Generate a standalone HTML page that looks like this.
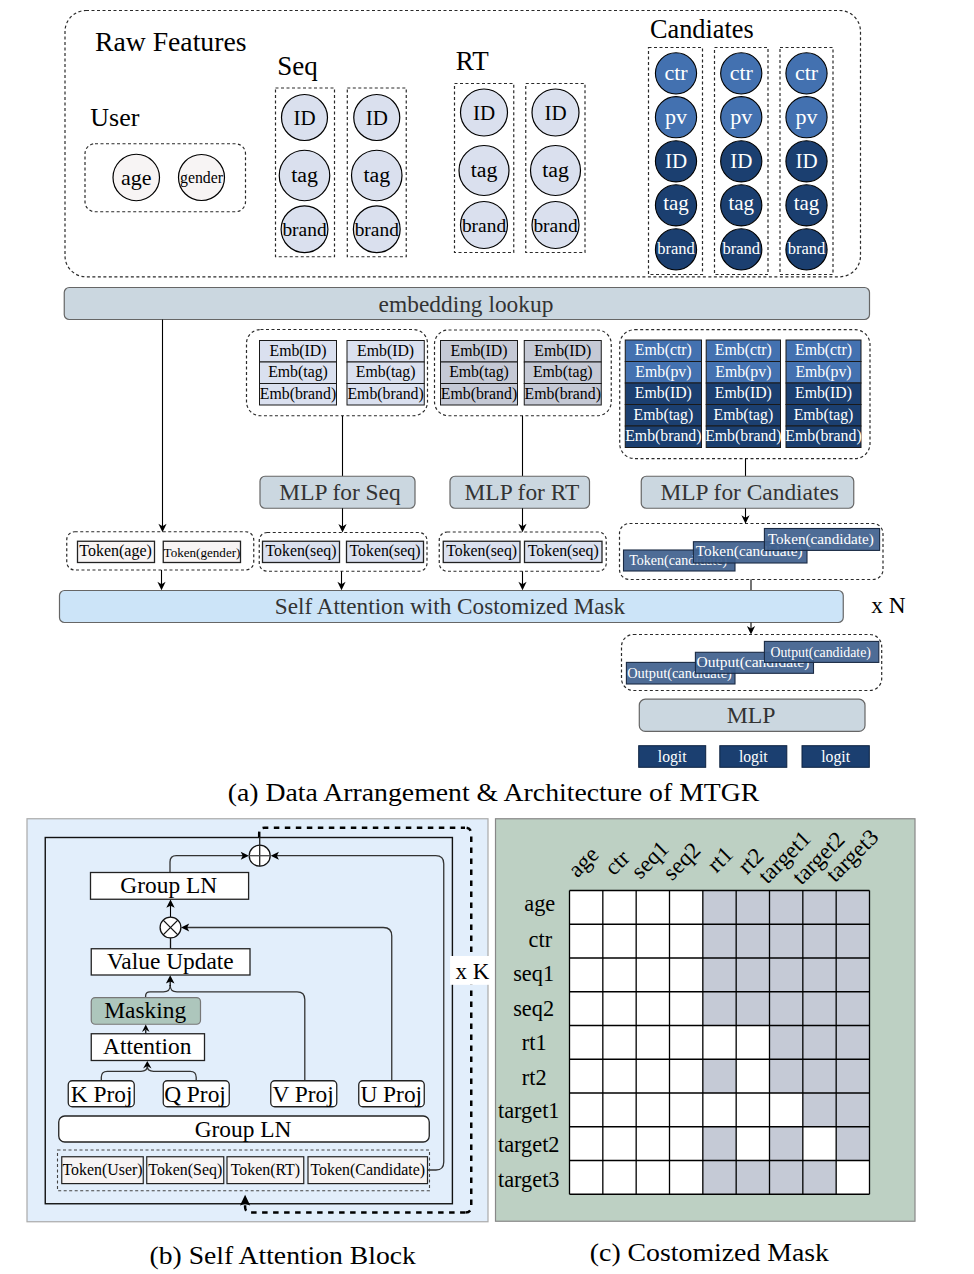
<!DOCTYPE html><html><head><meta charset="utf-8"><style>html,body{margin:0;padding:0;background:#fff;}svg{display:block;}text{font-family:"Liberation Serif",serif;}</style></head><body>
<svg width="974" height="1274" viewBox="0 0 974 1274">
<rect x="65" y="10.5" width="795.50" height="266.30" rx="21" fill="none" stroke="#2a2a2a" stroke-width="1.2" stroke-dasharray="3 2.5" />
<text x="95" y="51" font-size="27.7" fill="#000" text-anchor="start" >Raw Features</text>
<text x="90.3" y="125.7" font-size="26" fill="#000" text-anchor="start" >User</text>
<rect x="85" y="143.75" width="160.50" height="68.00" rx="10" fill="none" stroke="#2a2a2a" stroke-width="1.2" stroke-dasharray="3 2.5" />
<circle cx="136.25" cy="177.5" r="23.25" fill="#f7f4f4" stroke="#000" stroke-width="1.2"/>
<circle cx="201.5" cy="177.5" r="23" fill="#f7f4f4" stroke="#000" stroke-width="1.2"/>
<text x="136.25" y="184.5" font-size="22" fill="#000" text-anchor="middle" >age</text>
<text x="201.5" y="182.5" font-size="15.8" fill="#000" text-anchor="middle" >gender</text>
<text x="277.2" y="75.3" font-size="27" fill="#000" text-anchor="start" >Seq</text>
<rect x="275.5" y="88" width="59.00" height="168.75" rx="0" fill="none" stroke="#2a2a2a" stroke-width="1.2" stroke-dasharray="3 2.5" />
<circle cx="304.5" cy="117.5" r="23" fill="#dae0ee" stroke="#000" stroke-width="1.2"/>
<circle cx="304.5" cy="175.5" r="25.25" fill="#dae0ee" stroke="#000" stroke-width="1.2"/>
<circle cx="304.5" cy="229.25" r="23.4" fill="#dae0ee" stroke="#000" stroke-width="1.2"/>
<text x="304.5" y="125" font-size="21" fill="#000" text-anchor="middle" >ID</text>
<text x="304.5" y="182" font-size="21.9" fill="#000" text-anchor="middle" >tag</text>
<text x="304.5" y="236" font-size="19.4" fill="#000" text-anchor="middle" >brand</text>
<rect x="347.3" y="88" width="58.95" height="168.75" rx="0" fill="none" stroke="#2a2a2a" stroke-width="1.2" stroke-dasharray="3 2.5" />
<circle cx="376.75" cy="117.5" r="23" fill="#dae0ee" stroke="#000" stroke-width="1.2"/>
<circle cx="376.75" cy="175.5" r="25.25" fill="#dae0ee" stroke="#000" stroke-width="1.2"/>
<circle cx="376.75" cy="229.25" r="23.4" fill="#dae0ee" stroke="#000" stroke-width="1.2"/>
<text x="376.75" y="125" font-size="21" fill="#000" text-anchor="middle" >ID</text>
<text x="376.75" y="182" font-size="21.9" fill="#000" text-anchor="middle" >tag</text>
<text x="376.75" y="236" font-size="19.4" fill="#000" text-anchor="middle" >brand</text>
<text x="455.8" y="69.9" font-size="27" fill="#000" text-anchor="start" >RT</text>
<rect x="454.5" y="83.5" width="59.25" height="169.00" rx="0" fill="none" stroke="#2a2a2a" stroke-width="1.2" stroke-dasharray="3 2.5" />
<circle cx="484" cy="112.5" r="23.5" fill="#dae0ee" stroke="#000" stroke-width="1.2"/>
<circle cx="484" cy="170.5" r="25" fill="#dae0ee" stroke="#000" stroke-width="1.2"/>
<circle cx="484" cy="225" r="23.5" fill="#dae0ee" stroke="#000" stroke-width="1.2"/>
<text x="484" y="120" font-size="21" fill="#000" text-anchor="middle" >ID</text>
<text x="484" y="177" font-size="21.9" fill="#000" text-anchor="middle" >tag</text>
<text x="484" y="232" font-size="19.4" fill="#000" text-anchor="middle" >brand</text>
<rect x="525.75" y="83.5" width="59.25" height="169.00" rx="0" fill="none" stroke="#2a2a2a" stroke-width="1.2" stroke-dasharray="3 2.5" />
<circle cx="555.5" cy="112.5" r="23.5" fill="#dae0ee" stroke="#000" stroke-width="1.2"/>
<circle cx="555.5" cy="170.5" r="25" fill="#dae0ee" stroke="#000" stroke-width="1.2"/>
<circle cx="555.5" cy="225" r="23.5" fill="#dae0ee" stroke="#000" stroke-width="1.2"/>
<text x="555.5" y="120" font-size="21" fill="#000" text-anchor="middle" >ID</text>
<text x="555.5" y="177" font-size="21.9" fill="#000" text-anchor="middle" >tag</text>
<text x="555.5" y="232" font-size="19.4" fill="#000" text-anchor="middle" >brand</text>
<text x="650" y="38" font-size="26.3" fill="#000" text-anchor="start" >Candiates</text>
<rect x="648.5" y="47.5" width="54.00" height="227.00" rx="0" fill="none" stroke="#2a2a2a" stroke-width="1.2" stroke-dasharray="3 2.5" />
<circle cx="676" cy="73.35" r="20.6" fill="#4371b0" stroke="#000" stroke-width="1.1"/>
<text x="676" y="79.69999999999999" font-size="22" fill="#fff" text-anchor="middle" >ctr</text>
<circle cx="676" cy="117.2" r="20.6" fill="#4371b0" stroke="#000" stroke-width="1.1"/>
<text x="676" y="123.5" font-size="22" fill="#fff" text-anchor="middle" >pv</text>
<circle cx="676" cy="161.3" r="20.6" fill="#1b3f70" stroke="#000" stroke-width="1.1"/>
<text x="676" y="167.8" font-size="21" fill="#fff" text-anchor="middle" >ID</text>
<circle cx="676" cy="205.3" r="20.6" fill="#1b3f70" stroke="#000" stroke-width="1.1"/>
<text x="676" y="210.3" font-size="21" fill="#fff" text-anchor="middle" >tag</text>
<circle cx="676" cy="249.4" r="20.6" fill="#1b3f70" stroke="#000" stroke-width="1.1"/>
<text x="676" y="253.70000000000002" font-size="16.5" fill="#fff" text-anchor="middle" >brand</text>
<rect x="714.5" y="47.5" width="53.50" height="227.00" rx="0" fill="none" stroke="#2a2a2a" stroke-width="1.2" stroke-dasharray="3 2.5" />
<circle cx="741.25" cy="73.35" r="20.6" fill="#4371b0" stroke="#000" stroke-width="1.1"/>
<text x="741.25" y="79.69999999999999" font-size="22" fill="#fff" text-anchor="middle" >ctr</text>
<circle cx="741.25" cy="117.2" r="20.6" fill="#4371b0" stroke="#000" stroke-width="1.1"/>
<text x="741.25" y="123.5" font-size="22" fill="#fff" text-anchor="middle" >pv</text>
<circle cx="741.25" cy="161.3" r="20.6" fill="#1b3f70" stroke="#000" stroke-width="1.1"/>
<text x="741.25" y="167.8" font-size="21" fill="#fff" text-anchor="middle" >ID</text>
<circle cx="741.25" cy="205.3" r="20.6" fill="#1b3f70" stroke="#000" stroke-width="1.1"/>
<text x="741.25" y="210.3" font-size="21" fill="#fff" text-anchor="middle" >tag</text>
<circle cx="741.25" cy="249.4" r="20.6" fill="#1b3f70" stroke="#000" stroke-width="1.1"/>
<text x="741.25" y="253.70000000000002" font-size="16.5" fill="#fff" text-anchor="middle" >brand</text>
<rect x="780" y="47.5" width="53.00" height="227.00" rx="0" fill="none" stroke="#2a2a2a" stroke-width="1.2" stroke-dasharray="3 2.5" />
<circle cx="806.5" cy="73.35" r="20.6" fill="#4371b0" stroke="#000" stroke-width="1.1"/>
<text x="806.5" y="79.69999999999999" font-size="22" fill="#fff" text-anchor="middle" >ctr</text>
<circle cx="806.5" cy="117.2" r="20.6" fill="#4371b0" stroke="#000" stroke-width="1.1"/>
<text x="806.5" y="123.5" font-size="22" fill="#fff" text-anchor="middle" >pv</text>
<circle cx="806.5" cy="161.3" r="20.6" fill="#1b3f70" stroke="#000" stroke-width="1.1"/>
<text x="806.5" y="167.8" font-size="21" fill="#fff" text-anchor="middle" >ID</text>
<circle cx="806.5" cy="205.3" r="20.6" fill="#1b3f70" stroke="#000" stroke-width="1.1"/>
<text x="806.5" y="210.3" font-size="21" fill="#fff" text-anchor="middle" >tag</text>
<circle cx="806.5" cy="249.4" r="20.6" fill="#1b3f70" stroke="#000" stroke-width="1.1"/>
<text x="806.5" y="253.70000000000002" font-size="16.5" fill="#fff" text-anchor="middle" >brand</text>
<rect x="64.25" y="287.5" width="805.25" height="32.00" rx="5" fill="#cbd7e0" stroke="#666" stroke-width="1.2" />
<text x="466" y="311.75" font-size="23.4" fill="#333" text-anchor="middle" >embedding lookup</text>
<rect x="246.5" y="329.5" width="181.00" height="86.25" rx="14" fill="none" stroke="#2a2a2a" stroke-width="1.2" stroke-dasharray="3 2.5" />
<rect x="259.5" y="340.5" width="77.00" height="21.50" rx="0" fill="#dae0ef" stroke="#1a1a1a" stroke-width="1.0" />
<rect x="259.5" y="362.0" width="77.00" height="21.50" rx="0" fill="#dae0ef" stroke="#1a1a1a" stroke-width="1.0" />
<rect x="259.5" y="383.5" width="77.00" height="21.50" rx="0" fill="#dae0ef" stroke="#1a1a1a" stroke-width="1.0" />
<text x="298.0" y="355.7" font-size="15.8" fill="#000" text-anchor="middle" >Emb(ID)</text>
<text x="298.0" y="377.2" font-size="15.8" fill="#000" text-anchor="middle" >Emb(tag)</text>
<text x="298.0" y="398.7" font-size="15.8" fill="#000" text-anchor="middle" >Emb(brand)</text>
<rect x="347" y="340.5" width="77.25" height="21.50" rx="0" fill="#dae0ef" stroke="#1a1a1a" stroke-width="1.0" />
<rect x="347" y="362.0" width="77.25" height="21.50" rx="0" fill="#dae0ef" stroke="#1a1a1a" stroke-width="1.0" />
<rect x="347" y="383.5" width="77.25" height="21.50" rx="0" fill="#dae0ef" stroke="#1a1a1a" stroke-width="1.0" />
<text x="385.625" y="355.7" font-size="15.8" fill="#000" text-anchor="middle" >Emb(ID)</text>
<text x="385.625" y="377.2" font-size="15.8" fill="#000" text-anchor="middle" >Emb(tag)</text>
<text x="385.625" y="398.7" font-size="15.8" fill="#000" text-anchor="middle" >Emb(brand)</text>
<rect x="434.5" y="330" width="176.75" height="85.75" rx="14" fill="none" stroke="#2a2a2a" stroke-width="1.2" stroke-dasharray="3 2.5" />
<rect x="440.5" y="340.5" width="77.00" height="21.50" rx="0" fill="#c5c9d5" stroke="#1a1a1a" stroke-width="1.0" />
<rect x="440.5" y="362.0" width="77.00" height="21.50" rx="0" fill="#c5c9d5" stroke="#1a1a1a" stroke-width="1.0" />
<rect x="440.5" y="383.5" width="77.00" height="21.50" rx="0" fill="#c5c9d5" stroke="#1a1a1a" stroke-width="1.0" />
<text x="479.0" y="355.7" font-size="15.8" fill="#000" text-anchor="middle" >Emb(ID)</text>
<text x="479.0" y="377.2" font-size="15.8" fill="#000" text-anchor="middle" >Emb(tag)</text>
<text x="479.0" y="398.7" font-size="15.8" fill="#000" text-anchor="middle" >Emb(brand)</text>
<rect x="524.25" y="340.5" width="77.00" height="21.50" rx="0" fill="#c5c9d5" stroke="#1a1a1a" stroke-width="1.0" />
<rect x="524.25" y="362.0" width="77.00" height="21.50" rx="0" fill="#c5c9d5" stroke="#1a1a1a" stroke-width="1.0" />
<rect x="524.25" y="383.5" width="77.00" height="21.50" rx="0" fill="#c5c9d5" stroke="#1a1a1a" stroke-width="1.0" />
<text x="562.75" y="355.7" font-size="15.8" fill="#000" text-anchor="middle" >Emb(ID)</text>
<text x="562.75" y="377.2" font-size="15.8" fill="#000" text-anchor="middle" >Emb(tag)</text>
<text x="562.75" y="398.7" font-size="15.8" fill="#000" text-anchor="middle" >Emb(brand)</text>
<rect x="619.7" y="329.7" width="250.30" height="128.90" rx="15" fill="none" stroke="#2a2a2a" stroke-width="1.2" stroke-dasharray="3 2.5" />
<rect x="625.25" y="340.0" width="76.25" height="21.50" rx="0" fill="#4371b0" stroke="#1a1a1a" stroke-width="1.0" />
<rect x="625.25" y="361.5" width="76.25" height="21.50" rx="0" fill="#4371b0" stroke="#1a1a1a" stroke-width="1.0" />
<rect x="625.25" y="383.0" width="76.25" height="21.50" rx="0" fill="#1b3f70" stroke="#1a1a1a" stroke-width="1.0" />
<rect x="625.25" y="404.5" width="76.25" height="21.50" rx="0" fill="#1b3f70" stroke="#1a1a1a" stroke-width="1.0" />
<rect x="625.25" y="426.0" width="76.25" height="21.50" rx="0" fill="#1b3f70" stroke="#1a1a1a" stroke-width="1.0" />
<text x="663.375" y="355.2" font-size="15.8" fill="#fff" text-anchor="middle" >Emb(ctr)</text>
<text x="663.375" y="376.7" font-size="15.8" fill="#fff" text-anchor="middle" >Emb(pv)</text>
<text x="663.375" y="398.2" font-size="15.8" fill="#fff" text-anchor="middle" >Emb(ID)</text>
<text x="663.375" y="419.7" font-size="15.8" fill="#fff" text-anchor="middle" >Emb(tag)</text>
<text x="663.375" y="441.2" font-size="15.8" fill="#fff" text-anchor="middle" >Emb(brand)</text>
<rect x="706.2" y="340.0" width="74.30" height="21.50" rx="0" fill="#4371b0" stroke="#1a1a1a" stroke-width="1.0" />
<rect x="706.2" y="361.5" width="74.30" height="21.50" rx="0" fill="#4371b0" stroke="#1a1a1a" stroke-width="1.0" />
<rect x="706.2" y="383.0" width="74.30" height="21.50" rx="0" fill="#1b3f70" stroke="#1a1a1a" stroke-width="1.0" />
<rect x="706.2" y="404.5" width="74.30" height="21.50" rx="0" fill="#1b3f70" stroke="#1a1a1a" stroke-width="1.0" />
<rect x="706.2" y="426.0" width="74.30" height="21.50" rx="0" fill="#1b3f70" stroke="#1a1a1a" stroke-width="1.0" />
<text x="743.35" y="355.2" font-size="15.8" fill="#fff" text-anchor="middle" >Emb(ctr)</text>
<text x="743.35" y="376.7" font-size="15.8" fill="#fff" text-anchor="middle" >Emb(pv)</text>
<text x="743.35" y="398.2" font-size="15.8" fill="#fff" text-anchor="middle" >Emb(ID)</text>
<text x="743.35" y="419.7" font-size="15.8" fill="#fff" text-anchor="middle" >Emb(tag)</text>
<text x="743.35" y="441.2" font-size="15.8" fill="#fff" text-anchor="middle" >Emb(brand)</text>
<rect x="786" y="340.0" width="75.00" height="21.50" rx="0" fill="#4371b0" stroke="#1a1a1a" stroke-width="1.0" />
<rect x="786" y="361.5" width="75.00" height="21.50" rx="0" fill="#4371b0" stroke="#1a1a1a" stroke-width="1.0" />
<rect x="786" y="383.0" width="75.00" height="21.50" rx="0" fill="#1b3f70" stroke="#1a1a1a" stroke-width="1.0" />
<rect x="786" y="404.5" width="75.00" height="21.50" rx="0" fill="#1b3f70" stroke="#1a1a1a" stroke-width="1.0" />
<rect x="786" y="426.0" width="75.00" height="21.50" rx="0" fill="#1b3f70" stroke="#1a1a1a" stroke-width="1.0" />
<text x="823.5" y="355.2" font-size="15.8" fill="#fff" text-anchor="middle" >Emb(ctr)</text>
<text x="823.5" y="376.7" font-size="15.8" fill="#fff" text-anchor="middle" >Emb(pv)</text>
<text x="823.5" y="398.2" font-size="15.8" fill="#fff" text-anchor="middle" >Emb(ID)</text>
<text x="823.5" y="419.7" font-size="15.8" fill="#fff" text-anchor="middle" >Emb(tag)</text>
<text x="823.5" y="441.2" font-size="15.8" fill="#fff" text-anchor="middle" >Emb(brand)</text>
<line x1="162.5" y1="319.5" x2="162.5" y2="528" stroke="#000" stroke-width="1.1" />
<path d="M162.50,532.30 L158.40,523.80 L162.50,526.30 L166.60,523.80 Z" fill="#000"/>
<line x1="342.5" y1="415.75" x2="342.5" y2="476.25" stroke="#000" stroke-width="1.1" />
<line x1="522.5" y1="415.75" x2="522.5" y2="476.25" stroke="#000" stroke-width="1.1" />
<line x1="745.5" y1="458.6" x2="745.5" y2="476.25" stroke="#000" stroke-width="1.1" />
<rect x="260" y="476.25" width="155.00" height="32.00" rx="5" fill="#cbd7e0" stroke="#666" stroke-width="1.2" />
<text x="340" y="499.5" font-size="23.4" fill="#333" text-anchor="middle" >MLP for Seq</text>
<rect x="450" y="476.25" width="139.50" height="32.00" rx="5" fill="#cbd7e0" stroke="#666" stroke-width="1.2" />
<text x="521.9" y="499.5" font-size="23.4" fill="#333" text-anchor="middle" >MLP for RT</text>
<rect x="641.25" y="476.25" width="212.50" height="32.00" rx="5" fill="#cbd7e0" stroke="#666" stroke-width="1.2" />
<text x="749.75" y="499.5" font-size="23.4" fill="#333" text-anchor="middle" >MLP for Candiates</text>
<line x1="342.5" y1="508.25" x2="342.5" y2="528.5" stroke="#000" stroke-width="1.1" />
<path d="M342.50,532.50 L338.40,524.00 L342.50,526.50 L346.60,524.00 Z" fill="#000"/>
<line x1="522.5" y1="508.25" x2="522.5" y2="528.3" stroke="#000" stroke-width="1.1" />
<path d="M522.50,532.30 L518.40,523.80 L522.50,526.30 L526.60,523.80 Z" fill="#000"/>
<line x1="745.5" y1="508.25" x2="745.5" y2="519.8" stroke="#000" stroke-width="1.1" />
<path d="M745.50,523.80 L741.40,515.30 L745.50,517.80 L749.60,515.30 Z" fill="#000"/>
<rect x="66.75" y="531.75" width="187.00" height="38.25" rx="8" fill="none" stroke="#2a2a2a" stroke-width="1.2" stroke-dasharray="3 2.5" />
<rect x="77.5" y="541.25" width="77.00" height="21.25" rx="0" fill="#f7f4f4" stroke="#222" stroke-width="1.3" />
<rect x="163.25" y="541.25" width="77.25" height="21.25" rx="0" fill="#f7f4f4" stroke="#222" stroke-width="1.3" />
<text x="115.6" y="556.2" font-size="16" fill="#000" text-anchor="middle" >Token(age)</text>
<text x="202" y="556.6" font-size="13.1" fill="#000" text-anchor="middle" >Token(gender)</text>
<rect x="259.25" y="532.5" width="167.75" height="38.75" rx="8" fill="none" stroke="#2a2a2a" stroke-width="1.2" stroke-dasharray="3 2.5" />
<rect x="262.5" y="541.25" width="77.00" height="21.25" rx="0" fill="#dae0ef" stroke="#222" stroke-width="1.3" />
<text x="301.0" y="556.2" font-size="15.8" fill="#000" text-anchor="middle" >Token(seq)</text>
<rect x="346.5" y="541.25" width="77.00" height="21.25" rx="0" fill="#dae0ef" stroke="#222" stroke-width="1.3" />
<text x="385.0" y="556.2" font-size="15.8" fill="#000" text-anchor="middle" >Token(seq)</text>
<rect x="439.25" y="532" width="167.00" height="39.25" rx="8" fill="none" stroke="#2a2a2a" stroke-width="1.2" stroke-dasharray="3 2.5" />
<rect x="443.25" y="541.25" width="76.75" height="21.25" rx="0" fill="#dae0ef" stroke="#222" stroke-width="1.3" />
<text x="481.625" y="556.2" font-size="15.8" fill="#000" text-anchor="middle" >Token(seq)</text>
<rect x="524.5" y="541.25" width="77.50" height="21.25" rx="0" fill="#dae0ef" stroke="#222" stroke-width="1.3" />
<text x="563.25" y="556.2" font-size="15.8" fill="#000" text-anchor="middle" >Token(seq)</text>
<rect x="619.5" y="523.5" width="263.50" height="56.00" rx="10" fill="none" stroke="#2a2a2a" stroke-width="1.2" stroke-dasharray="3 2.5" />
<rect x="623.5" y="550" width="111.50" height="21.00" rx="0" fill="#41618e" stroke="#1a2a44" stroke-width="1.1" fill-opacity="0.93"/>
<text x="629.3" y="564.8" font-size="14" fill="#fff" text-anchor="start" >Token(candidate)</text>
<rect x="693.4" y="541.7" width="113.60" height="21.30" rx="0" fill="#41618e" stroke="#1a2a44" stroke-width="1.1" fill-opacity="0.93"/>
<text x="695.8" y="556.2" font-size="15.3" fill="#fff" text-anchor="start" >Token(candidate)</text>
<rect x="764.4" y="528.5" width="115.20" height="21.90" rx="0" fill="#41618e" stroke="#1a2a44" stroke-width="1.1" fill-opacity="0.93"/>
<text x="767.8" y="544" font-size="15.2" fill="#fff" text-anchor="start" >Token(candidate)</text>
<line x1="161.5" y1="570" x2="161.5" y2="586" stroke="#000" stroke-width="1.1" />
<path d="M161.50,590.30 L157.40,581.80 L161.50,584.30 L165.60,581.80 Z" fill="#000"/>
<line x1="341.5" y1="571.25" x2="341.5" y2="586" stroke="#000" stroke-width="1.1" />
<path d="M341.50,590.30 L337.40,581.80 L341.50,584.30 L345.60,581.80 Z" fill="#000"/>
<line x1="522.5" y1="571.25" x2="522.5" y2="586" stroke="#000" stroke-width="1.1" />
<path d="M522.50,590.30 L518.40,581.80 L522.50,584.30 L526.60,581.80 Z" fill="#000"/>
<line x1="751" y1="579.5" x2="751" y2="590.5" stroke="#000" stroke-width="1.1" />
<rect x="59.5" y="590.5" width="783.75" height="32.00" rx="5" fill="#cce4f8" stroke="#666" stroke-width="1.2" />
<text x="450" y="613.75" font-size="23.2" fill="#333" text-anchor="middle" >Self Attention with Costomized Mask</text>
<text x="871.3" y="613" font-size="23.3" fill="#000" text-anchor="start" >x N</text>
<line x1="751" y1="622.5" x2="751" y2="630" stroke="#000" stroke-width="1.1" />
<path d="M751.00,634.50 L746.90,626.00 L751.00,628.50 L755.10,626.00 Z" fill="#000"/>
<rect x="621.5" y="634.5" width="260.20" height="56.00" rx="12" fill="none" stroke="#2a2a2a" stroke-width="1.2" stroke-dasharray="3 2.5" />
<rect x="626.4" y="662.4" width="108.60" height="21.60" rx="0" fill="#41618e" stroke="#1a2a44" stroke-width="1.1" fill-opacity="0.93"/>
<text x="627.2" y="678" font-size="14.4" fill="#fff" text-anchor="start" >Output(candidate)</text>
<rect x="695.4" y="652.3" width="118.10" height="21.00" rx="0" fill="#41618e" stroke="#1a2a44" stroke-width="1.1" fill-opacity="0.93"/>
<text x="696.6" y="666.7" font-size="15.5" fill="#fff" text-anchor="start" >Output(candidate)</text>
<rect x="764.4" y="641.4" width="114.40" height="21.00" rx="0" fill="#41618e" stroke="#1a2a44" stroke-width="1.1" fill-opacity="0.93"/>
<text x="770.5" y="657" font-size="13.8" fill="#fff" text-anchor="start" >Output(candidate)</text>
<rect x="639.3" y="699.2" width="225.70" height="32.20" rx="6" fill="#cbd7e0" stroke="#666" stroke-width="1.2" />
<text x="751.1" y="722.7" font-size="23.8" fill="#333" text-anchor="middle" >MLP</text>
<rect x="638.7" y="745.7" width="67.00" height="21.60" rx="0" fill="#1b3f70" stroke="#0d2240" stroke-width="1" />
<text x="672.2" y="762" font-size="15.7" fill="#fff" text-anchor="middle" >logit</text>
<rect x="719.8" y="745.7" width="67.00" height="21.60" rx="0" fill="#1b3f70" stroke="#0d2240" stroke-width="1" />
<text x="753.3" y="762" font-size="15.7" fill="#fff" text-anchor="middle" >logit</text>
<rect x="802" y="745.7" width="67.30" height="21.60" rx="0" fill="#1b3f70" stroke="#0d2240" stroke-width="1" />
<text x="835.65" y="762" font-size="15.7" fill="#fff" text-anchor="middle" >logit</text>
<text x="227.8" y="800.5" font-size="25" fill="#000" text-anchor="start" textLength="531.5" lengthAdjust="spacingAndGlyphs">(a) Data Arrangement &amp; Architecture of MTGR</text>
<rect x="27" y="818.75" width="461.00" height="403.00" rx="0" fill="#e2eefb" stroke="#aaa" stroke-width="1.2" />
<rect x="45.25" y="837.5" width="407.15" height="366.25" rx="0" fill="none" stroke="#111" stroke-width="1.4" />
<path d="M259.2,837.3 V833 Q259.2,827.7 264.5,827.7 H465" fill="none" stroke="#000" stroke-width="2.5" stroke-dasharray="5.5 5.5"/>
<path d="M465,827.7 Q471.25,827.7 471.25,834 V1206.5 Q471.25,1212.6 465,1212.6" fill="none" stroke="#000" stroke-width="2.5" stroke-dasharray="5.5 5.5" stroke-dashoffset="9.6"/>
<path d="M465,1212.6 H251 Q245.1,1212.6 245.1,1207 V1203" fill="none" stroke="#000" stroke-width="2.5" stroke-dasharray="5.5 5.5" stroke-dashoffset="0.6"/>
<path d="M245.10,1194.80 L240.00,1205.50 L245.10,1203.80 L250.20,1205.50 Z" fill="#000"/>
<path d="M427.5,1170 H436 Q443.75,1170 443.75,1162 V863.7 Q443.75,855.7 435.75,855.7 H276" fill="none" stroke="#333" stroke-width="1.3" />
<path d="M270.70,855.70 L278.90,851.70 L276.90,855.70 L278.90,859.70 Z" fill="#000"/>
<path d="M170,872.5 V862 Q170,855.7 176.3,855.7 H243" fill="none" stroke="#333" stroke-width="1.3" />
<path d="M248.90,855.70 L240.70,851.70 L242.70,855.70 L240.70,859.70 Z" fill="#000"/>
<circle cx="259.7" cy="855.7" r="10.5" fill="#fff" stroke="#111" stroke-width="1.3"/>
<line x1="259.7" y1="837.3" x2="259.7" y2="866.2" stroke="#222" stroke-width="1.3" />
<line x1="249.2" y1="855.7" x2="270.2" y2="855.7" stroke="#444" stroke-width="1.3" />
<rect x="90.5" y="872.5" width="158.10" height="26.75" rx="0" fill="#fff" stroke="#222" stroke-width="1.3" />
<text x="168.75" y="893" font-size="23.4" fill="#000" text-anchor="middle" >Group LN</text>
<line x1="170.5" y1="917.1" x2="170.5" y2="905" stroke="#000" stroke-width="1.1" />
<path d="M170.50,899.60 L166.30,907.80 L170.50,905.80 L174.70,907.80 Z" fill="#000"/>
<circle cx="170.5" cy="927.5" r="10.4" fill="#fff" stroke="#111" stroke-width="1.3"/>
<line x1="163.15" y1="920.15" x2="177.85" y2="934.85" stroke="#111" stroke-width="1.3" />
<line x1="163.15" y1="934.85" x2="177.85" y2="920.15" stroke="#111" stroke-width="1.3" />
<path d="M391.75,1080.75 V936 Q391.75,927.5 383.25,927.5 H186" fill="none" stroke="#333" stroke-width="1.3" />
<path d="M181.00,927.50 L189.20,923.50 L187.20,927.50 L189.20,931.50 Z" fill="#000"/>
<line x1="170.5" y1="948.75" x2="170.5" y2="937.9" stroke="#111" stroke-width="1.3" />
<rect x="91.25" y="948.75" width="158.75" height="26.25" rx="0" fill="#fff" stroke="#222" stroke-width="1.3" />
<text x="170.4" y="968.75" font-size="23.4" fill="#000" text-anchor="middle" >Value Update</text>
<path d="M304.8,1080.75 V999.6 Q304.8,991.9 297.1,991.9 H177 C172,991.9 170.2,990 170.2,985" fill="none" stroke="#333" stroke-width="1.3" />
<path d="M145.6,997.6 V996 Q145.6,991.9 150,991.9 H163.4 C168.4,991.9 170.2,990 170.2,985" fill="none" stroke="#333" stroke-width="1.3" />
<line x1="170.2" y1="986" x2="170.2" y2="981" stroke="#111" stroke-width="1.3" />
<path d="M170.20,975.30 L165.90,983.50 L170.20,981.50 L174.50,983.50 Z" fill="#000"/>
<rect x="91.25" y="997.6" width="109.25" height="26.65" rx="4" fill="#adc6bc" stroke="#777" stroke-width="1.2" />
<text x="145.25" y="1017.5" font-size="23.4" fill="#000" text-anchor="middle" >Masking</text>
<line x1="145.75" y1="1033.75" x2="145.75" y2="1030" stroke="#111" stroke-width="1.3" />
<path d="M145.75,1024.50 L141.95,1032.00 L145.75,1029.50 L149.55,1032.00 Z" fill="#000"/>
<rect x="91.25" y="1033.75" width="113.25" height="26.75" rx="0" fill="#fff" stroke="#222" stroke-width="1.3" />
<text x="147.25" y="1053.8" font-size="23.4" fill="#000" text-anchor="middle" >Attention</text>
<path d="M101.3,1080.5 V1077.3 Q101.3,1071.3 107.3,1071.3 H141 C145.5,1071.3 147.3,1070 147.3,1066" fill="none" stroke="#333" stroke-width="1.3" />
<path d="M196.2,1080.5 V1077.3 Q196.2,1071.3 190.2,1071.3 H153.6 C149.1,1071.3 147.3,1070 147.3,1066" fill="none" stroke="#333" stroke-width="1.3" />
<path d="M147.30,1060.90 L143.10,1068.50 L147.30,1065.90 L151.50,1068.50 Z" fill="#000"/>
<rect x="68.25" y="1080.75" width="66.00" height="26.00" rx="4" fill="#fff" stroke="#222" stroke-width="1.3" />
<text x="101.6" y="1101.5" font-size="23.4" fill="#000" text-anchor="middle" >K Proj</text>
<rect x="163.25" y="1080.75" width="66.00" height="26.00" rx="4" fill="#fff" stroke="#222" stroke-width="1.3" />
<text x="195" y="1101.5" font-size="23.4" fill="#000" text-anchor="middle" >Q Proj</text>
<rect x="270.75" y="1080.75" width="66.00" height="26.00" rx="4" fill="#fff" stroke="#222" stroke-width="1.3" />
<text x="303.1" y="1101.5" font-size="23.4" fill="#000" text-anchor="middle" >V Proj</text>
<rect x="358.75" y="1080.75" width="65.50" height="26.00" rx="4" fill="#fff" stroke="#222" stroke-width="1.3" />
<text x="391.25" y="1101.5" font-size="23.4" fill="#000" text-anchor="middle" >U Proj</text>
<rect x="58.75" y="1116" width="370.50" height="26.00" rx="6" fill="#fff" stroke="#222" stroke-width="1.3" />
<text x="243.1" y="1137.1" font-size="23.4" fill="#000" text-anchor="middle" >Group LN</text>
<rect x="57.5" y="1150" width="372.00" height="40.70" rx="0" fill="none" stroke="#444" stroke-width="1.1" stroke-dasharray="3 2.5"/>
<rect x="61.75" y="1156.75" width="81.50" height="26.85" rx="0" fill="#f7f4f4" stroke="#222" stroke-width="1.2" />
<text x="102.5" y="1174.6" font-size="15.9" fill="#000" text-anchor="middle" >Token(User)</text>
<rect x="146.75" y="1156.75" width="77.00" height="26.85" rx="0" fill="#f7f4f4" stroke="#222" stroke-width="1.2" />
<text x="185.25" y="1174.6" font-size="15.9" fill="#000" text-anchor="middle" >Token(Seq)</text>
<rect x="227" y="1156.75" width="76.75" height="26.85" rx="0" fill="#f7f4f4" stroke="#222" stroke-width="1.2" />
<text x="265.375" y="1174.6" font-size="15.9" fill="#000" text-anchor="middle" >Token(RT)</text>
<rect x="308" y="1156.75" width="119.50" height="26.85" rx="0" fill="#f7f4f4" stroke="#222" stroke-width="1.2" />
<text x="367.75" y="1174.6" font-size="15.9" fill="#000" text-anchor="middle" >Token(Candidate)</text>
<rect x="450.1" y="956" width="45.20" height="28.80" rx="0" fill="#fff" stroke="none" stroke-width="0" />
<text x="455.5" y="978.6" font-size="23" fill="#000" text-anchor="start" >x K</text>
<text x="149.6" y="1263.75" font-size="26" fill="#000" text-anchor="start" textLength="266.2" lengthAdjust="spacingAndGlyphs">(b) Self Attention Block</text>
<rect x="495.5" y="818.75" width="419.50" height="402.50" rx="0" fill="#bdd0c3" stroke="#888" stroke-width="1.2" />
<rect x="569.50" y="890.50" width="33.33" height="33.75" fill="#fff"/>
<rect x="602.83" y="890.50" width="33.33" height="33.75" fill="#fff"/>
<rect x="636.17" y="890.50" width="33.33" height="33.75" fill="#fff"/>
<rect x="669.50" y="890.50" width="33.33" height="33.75" fill="#fff"/>
<rect x="702.83" y="890.50" width="33.33" height="33.75" fill="#c5cad6"/>
<rect x="736.17" y="890.50" width="33.33" height="33.75" fill="#c5cad6"/>
<rect x="769.50" y="890.50" width="33.33" height="33.75" fill="#c5cad6"/>
<rect x="802.83" y="890.50" width="33.33" height="33.75" fill="#c5cad6"/>
<rect x="836.17" y="890.50" width="33.33" height="33.75" fill="#c5cad6"/>
<rect x="569.50" y="924.25" width="33.33" height="33.75" fill="#fff"/>
<rect x="602.83" y="924.25" width="33.33" height="33.75" fill="#fff"/>
<rect x="636.17" y="924.25" width="33.33" height="33.75" fill="#fff"/>
<rect x="669.50" y="924.25" width="33.33" height="33.75" fill="#fff"/>
<rect x="702.83" y="924.25" width="33.33" height="33.75" fill="#c5cad6"/>
<rect x="736.17" y="924.25" width="33.33" height="33.75" fill="#c5cad6"/>
<rect x="769.50" y="924.25" width="33.33" height="33.75" fill="#c5cad6"/>
<rect x="802.83" y="924.25" width="33.33" height="33.75" fill="#c5cad6"/>
<rect x="836.17" y="924.25" width="33.33" height="33.75" fill="#c5cad6"/>
<rect x="569.50" y="958.00" width="33.33" height="33.75" fill="#fff"/>
<rect x="602.83" y="958.00" width="33.33" height="33.75" fill="#fff"/>
<rect x="636.17" y="958.00" width="33.33" height="33.75" fill="#fff"/>
<rect x="669.50" y="958.00" width="33.33" height="33.75" fill="#fff"/>
<rect x="702.83" y="958.00" width="33.33" height="33.75" fill="#c5cad6"/>
<rect x="736.17" y="958.00" width="33.33" height="33.75" fill="#c5cad6"/>
<rect x="769.50" y="958.00" width="33.33" height="33.75" fill="#c5cad6"/>
<rect x="802.83" y="958.00" width="33.33" height="33.75" fill="#c5cad6"/>
<rect x="836.17" y="958.00" width="33.33" height="33.75" fill="#c5cad6"/>
<rect x="569.50" y="991.75" width="33.33" height="33.75" fill="#fff"/>
<rect x="602.83" y="991.75" width="33.33" height="33.75" fill="#fff"/>
<rect x="636.17" y="991.75" width="33.33" height="33.75" fill="#fff"/>
<rect x="669.50" y="991.75" width="33.33" height="33.75" fill="#fff"/>
<rect x="702.83" y="991.75" width="33.33" height="33.75" fill="#c5cad6"/>
<rect x="736.17" y="991.75" width="33.33" height="33.75" fill="#c5cad6"/>
<rect x="769.50" y="991.75" width="33.33" height="33.75" fill="#c5cad6"/>
<rect x="802.83" y="991.75" width="33.33" height="33.75" fill="#c5cad6"/>
<rect x="836.17" y="991.75" width="33.33" height="33.75" fill="#c5cad6"/>
<rect x="569.50" y="1025.50" width="33.33" height="33.75" fill="#fff"/>
<rect x="602.83" y="1025.50" width="33.33" height="33.75" fill="#fff"/>
<rect x="636.17" y="1025.50" width="33.33" height="33.75" fill="#fff"/>
<rect x="669.50" y="1025.50" width="33.33" height="33.75" fill="#fff"/>
<rect x="702.83" y="1025.50" width="33.33" height="33.75" fill="#fff"/>
<rect x="736.17" y="1025.50" width="33.33" height="33.75" fill="#fff"/>
<rect x="769.50" y="1025.50" width="33.33" height="33.75" fill="#c5cad6"/>
<rect x="802.83" y="1025.50" width="33.33" height="33.75" fill="#c5cad6"/>
<rect x="836.17" y="1025.50" width="33.33" height="33.75" fill="#c5cad6"/>
<rect x="569.50" y="1059.25" width="33.33" height="33.75" fill="#fff"/>
<rect x="602.83" y="1059.25" width="33.33" height="33.75" fill="#fff"/>
<rect x="636.17" y="1059.25" width="33.33" height="33.75" fill="#fff"/>
<rect x="669.50" y="1059.25" width="33.33" height="33.75" fill="#fff"/>
<rect x="702.83" y="1059.25" width="33.33" height="33.75" fill="#c5cad6"/>
<rect x="736.17" y="1059.25" width="33.33" height="33.75" fill="#fff"/>
<rect x="769.50" y="1059.25" width="33.33" height="33.75" fill="#c5cad6"/>
<rect x="802.83" y="1059.25" width="33.33" height="33.75" fill="#c5cad6"/>
<rect x="836.17" y="1059.25" width="33.33" height="33.75" fill="#c5cad6"/>
<rect x="569.50" y="1093.00" width="33.33" height="33.75" fill="#fff"/>
<rect x="602.83" y="1093.00" width="33.33" height="33.75" fill="#fff"/>
<rect x="636.17" y="1093.00" width="33.33" height="33.75" fill="#fff"/>
<rect x="669.50" y="1093.00" width="33.33" height="33.75" fill="#fff"/>
<rect x="702.83" y="1093.00" width="33.33" height="33.75" fill="#fff"/>
<rect x="736.17" y="1093.00" width="33.33" height="33.75" fill="#fff"/>
<rect x="769.50" y="1093.00" width="33.33" height="33.75" fill="#fff"/>
<rect x="802.83" y="1093.00" width="33.33" height="33.75" fill="#c5cad6"/>
<rect x="836.17" y="1093.00" width="33.33" height="33.75" fill="#c5cad6"/>
<rect x="569.50" y="1126.75" width="33.33" height="33.75" fill="#fff"/>
<rect x="602.83" y="1126.75" width="33.33" height="33.75" fill="#fff"/>
<rect x="636.17" y="1126.75" width="33.33" height="33.75" fill="#fff"/>
<rect x="669.50" y="1126.75" width="33.33" height="33.75" fill="#fff"/>
<rect x="702.83" y="1126.75" width="33.33" height="33.75" fill="#c5cad6"/>
<rect x="736.17" y="1126.75" width="33.33" height="33.75" fill="#fff"/>
<rect x="769.50" y="1126.75" width="33.33" height="33.75" fill="#c5cad6"/>
<rect x="802.83" y="1126.75" width="33.33" height="33.75" fill="#fff"/>
<rect x="836.17" y="1126.75" width="33.33" height="33.75" fill="#c5cad6"/>
<rect x="569.50" y="1160.50" width="33.33" height="33.75" fill="#fff"/>
<rect x="602.83" y="1160.50" width="33.33" height="33.75" fill="#fff"/>
<rect x="636.17" y="1160.50" width="33.33" height="33.75" fill="#fff"/>
<rect x="669.50" y="1160.50" width="33.33" height="33.75" fill="#fff"/>
<rect x="702.83" y="1160.50" width="33.33" height="33.75" fill="#c5cad6"/>
<rect x="736.17" y="1160.50" width="33.33" height="33.75" fill="#c5cad6"/>
<rect x="769.50" y="1160.50" width="33.33" height="33.75" fill="#c5cad6"/>
<rect x="802.83" y="1160.50" width="33.33" height="33.75" fill="#c5cad6"/>
<rect x="836.17" y="1160.50" width="33.33" height="33.75" fill="#fff"/>
<line x1="569.5" y1="890.5" x2="569.5" y2="1194.25" stroke="#000" stroke-width="1.3" />
<line x1="569.5" y1="890.5" x2="869.5" y2="890.5" stroke="#000" stroke-width="1.3" />
<line x1="602.8333333333334" y1="890.5" x2="602.8333333333334" y2="1194.25" stroke="#000" stroke-width="1.3" />
<line x1="569.5" y1="924.25" x2="869.5" y2="924.25" stroke="#000" stroke-width="1.3" />
<line x1="636.1666666666666" y1="890.5" x2="636.1666666666666" y2="1194.25" stroke="#000" stroke-width="1.3" />
<line x1="569.5" y1="958.0" x2="869.5" y2="958.0" stroke="#000" stroke-width="1.3" />
<line x1="669.5" y1="890.5" x2="669.5" y2="1194.25" stroke="#000" stroke-width="1.3" />
<line x1="569.5" y1="991.75" x2="869.5" y2="991.75" stroke="#000" stroke-width="1.3" />
<line x1="702.8333333333334" y1="890.5" x2="702.8333333333334" y2="1194.25" stroke="#000" stroke-width="1.3" />
<line x1="569.5" y1="1025.5" x2="869.5" y2="1025.5" stroke="#000" stroke-width="1.3" />
<line x1="736.1666666666667" y1="890.5" x2="736.1666666666667" y2="1194.25" stroke="#000" stroke-width="1.3" />
<line x1="569.5" y1="1059.25" x2="869.5" y2="1059.25" stroke="#000" stroke-width="1.3" />
<line x1="769.5" y1="890.5" x2="769.5" y2="1194.25" stroke="#000" stroke-width="1.3" />
<line x1="569.5" y1="1093.0" x2="869.5" y2="1093.0" stroke="#000" stroke-width="1.3" />
<line x1="802.8333333333334" y1="890.5" x2="802.8333333333334" y2="1194.25" stroke="#000" stroke-width="1.3" />
<line x1="569.5" y1="1126.75" x2="869.5" y2="1126.75" stroke="#000" stroke-width="1.3" />
<line x1="836.1666666666667" y1="890.5" x2="836.1666666666667" y2="1194.25" stroke="#000" stroke-width="1.3" />
<line x1="569.5" y1="1160.5" x2="869.5" y2="1160.5" stroke="#000" stroke-width="1.3" />
<line x1="869.5" y1="890.5" x2="869.5" y2="1194.25" stroke="#000" stroke-width="1.3" />
<line x1="569.5" y1="1194.25" x2="869.5" y2="1194.25" stroke="#000" stroke-width="1.3" />
<text x="524.3" y="910.7" font-size="22.3" fill="#000" text-anchor="start" >age</text>
<text x="528.6" y="946.7" font-size="22.3" fill="#000" text-anchor="start" >ctr</text>
<text x="513.2" y="981.2" font-size="22.3" fill="#000" text-anchor="start" >seq1</text>
<text x="513.2" y="1016.3" font-size="22.3" fill="#000" text-anchor="start" >seq2</text>
<text x="521.8" y="1050" font-size="22.3" fill="#000" text-anchor="start" >rt1</text>
<text x="521.8" y="1084.6" font-size="22.3" fill="#000" text-anchor="start" >rt2</text>
<text x="498" y="1117.9" font-size="22.3" fill="#000" text-anchor="start" >target1</text>
<text x="498" y="1151.6" font-size="22.3" fill="#000" text-anchor="start" >target2</text>
<text x="498" y="1186.6" font-size="22.3" fill="#000" text-anchor="start" >target3</text>
<text x="0" y="0" font-size="23" text-anchor="middle" dominant-baseline="central" transform="translate(583.30,861.8) rotate(-45)">age</text>
<text x="0" y="0" font-size="23" text-anchor="middle" dominant-baseline="central" transform="translate(617.10,862.5) rotate(-45)">ctr</text>
<text x="0" y="0" font-size="23" text-anchor="middle" dominant-baseline="central" transform="translate(649.90,859.7) rotate(-45)">seq1</text>
<text x="0" y="0" font-size="23" text-anchor="middle" dominant-baseline="central" transform="translate(681.70,861.2) rotate(-45)">seq2</text>
<text x="0" y="0" font-size="23" text-anchor="middle" dominant-baseline="central" transform="translate(720.00,859.4) rotate(-45)">rt1</text>
<text x="0" y="0" font-size="23" text-anchor="middle" dominant-baseline="central" transform="translate(750.70,860.9) rotate(-45)">rt2</text>
<text x="0" y="0" font-size="23" text-anchor="middle" dominant-baseline="central" transform="translate(784.40,857) rotate(-45)">target1</text>
<text x="0" y="0" font-size="23" text-anchor="middle" dominant-baseline="central" transform="translate(818.50,858.1) rotate(-45)">target2</text>
<text x="0" y="0" font-size="23" text-anchor="middle" dominant-baseline="central" transform="translate(852.10,855.5) rotate(-45)">target3</text>
<text x="589.8" y="1261.25" font-size="26" fill="#000" text-anchor="start" textLength="239.2" lengthAdjust="spacingAndGlyphs">(c) Costomized Mask</text>
</svg></body></html>
